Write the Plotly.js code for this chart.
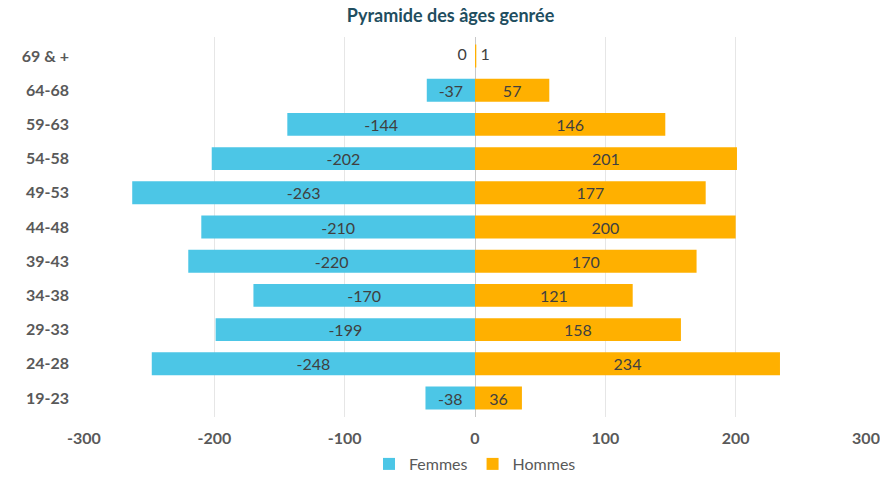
<!DOCTYPE html>
<html><head><meta charset="utf-8">
<script src="https://cdn.plot.ly/plotly-3.0.1.min.js"></script>
<style>html,body{margin:0;padding:0;background:#fff}#chart{width:880px;height:481px}</style>
</head><body><div id="chart"></div>
<script>
const ageGroups = ["19-23","24-28","29-33","34-38","39-43","44-48","49-53","54-58","59-63","64-68","69 & +"];
const femmes = [-38,-248,-199,-170,-220,-210,-263,-202,-144,-37,0];
const hommes = [36,234,158,121,170,200,177,201,146,57,1];
const xTicks = [-300,-200,-100,0,100,200,300];

const FONT = "Lato, 'Open Sans', sans-serif";
const labelFont = {family:FONT, size:16, color:"#404040"};
const isSmall = v => Math.abs(v) < 10;

const traces = [
 {type:"bar", orientation:"h", name:"Femmes", y:ageGroups, x:femmes,
  marker:{color:"#4CC6E6"}, text:femmes.map(v => isSmall(v) ? "" : String(v)), textposition:"inside",
  insidetextanchor:"middle", textangle:0, insidetextfont:labelFont,
  cliponaxis:false, constraintext:"none", hoverinfo:"skip"},
 {type:"bar", orientation:"h", name:"Hommes", y:ageGroups, x:hommes,
  marker:{color:"#FFB000"}, text:hommes.map(v => isSmall(v) ? "" : String(v)), textposition:"inside",
  insidetextanchor:"middle", textangle:0, insidetextfont:labelFont,
  cliponaxis:false, constraintext:"none", hoverinfo:"skip"},
 {type:"scatter", mode:"text", showlegend:false, hoverinfo:"skip", y:ageGroups, x:femmes,
  text:femmes.map(v => isSmall(v) ? String(v) + "  " : ""), textposition:"middle left", textfont:labelFont, cliponaxis:false},
 {type:"scatter", mode:"text", showlegend:false, hoverinfo:"skip", y:ageGroups, x:hommes,
  text:hommes.map(v => isSmall(v) ? " " + String(v) : ""), textposition:"middle right", textfont:labelFont, cliponaxis:false}
];

const layout = {
 width:880, height:481,
 margin:{l:84, r:14, t:37, b:64},
 paper_bgcolor:"#fff", plot_bgcolor:"#fff",
 title:{text:"<b>Pyramide des âges genrée</b>", x:0.512, xanchor:"center", y:0.968, yanchor:"middle",
        font:{family:FONT, size:18, color:"#1F4E5F"}},
 barmode:"relative", bargap:0.33,
 xaxis:{range:[-300,300], tickvals:xTicks, ticktext:xTicks.map(String), fixedrange:true,
        showgrid:true, gridcolor:"#E6E6E6", gridwidth:1, zeroline:true, zerolinecolor:"#C8C8C8", zerolinewidth:1,
        showline:false, ticks:"", ticklabelstandoff:10,
        tickfont:{family:FONT, size:16, color:"#595959", weight:"bold"}},
 yaxis:{type:"category", categoryorder:"array", categoryarray:ageGroups, showgrid:false, zeroline:false,
        showline:false, ticks:"", ticklabelstandoff:14,
        tickfont:{family:FONT, size:16, color:"#595959", weight:"bold"}},
 legend:{orientation:"h", x:0.5, xanchor:"center", yref:"container", y:0.0, yanchor:"bottom",
         font:{family:FONT, size:16, color:"#595959"}, traceorder:"normal"},
 showlegend:true
};
Plotly.newPlot("chart", traces, layout, {displayModeBar:false, staticPlot:true});
</script></body></html>
